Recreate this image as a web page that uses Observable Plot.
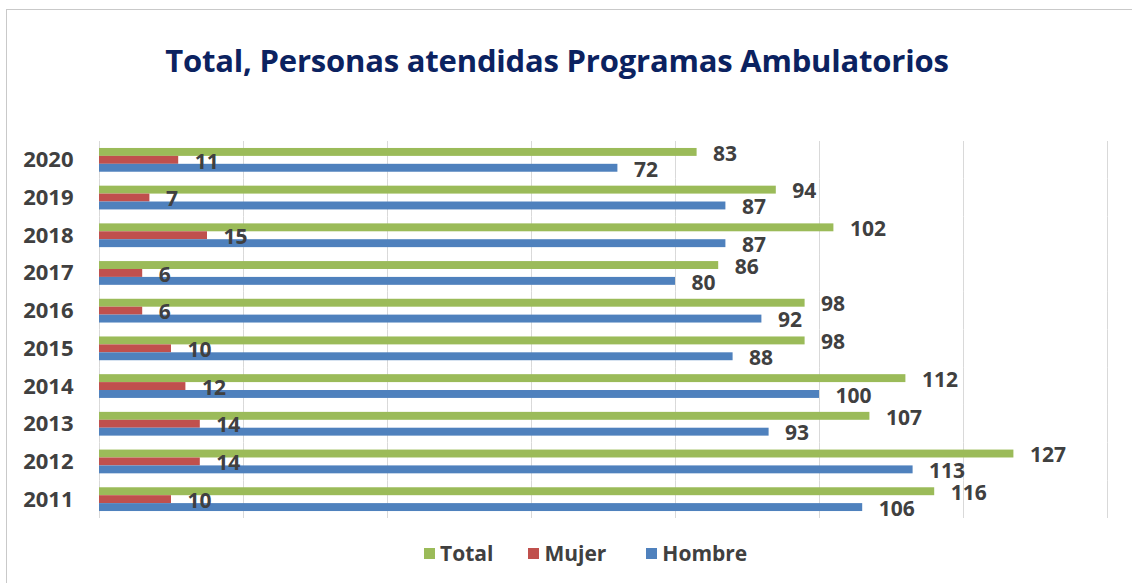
<!DOCTYPE html>
<html>
<head>
<meta charset="utf-8">
<script src="https://cdn.jsdelivr.net/npm/d3@7"></script>
<script src="https://cdn.jsdelivr.net/npm/@observablehq/plot@0.6"></script>
<style>
  html, body { margin: 0; padding: 0; background: #fff; width: 1132px; height: 583px; overflow: hidden; font-family: "Open Sans", sans-serif; }
  #frame { position: absolute; left: 6px; top: 9px; width: 1300px; height: 800px; border: 1px solid #c9c9c9; }
  #title { position: absolute; left: 0; width: 1114px; top: 39px; text-align: center; font-size: 31px; font-weight: 700; color: #0b2260; letter-spacing: -0.2px; }
  #chart { position: absolute; left: 0; top: 121px; }
  #legend { position: absolute; left: 424px; top: 539px; display: flex; font-size: 21px; font-weight: 700; color: #404040; }
  #legend .item { display: flex; align-items: center; gap: 5px; }
  #legend .sw { width: 11px; height: 11px; display: inline-block; }
  #chart svg g[aria-label="fy-axis tick label"] text { font-size: 22px; font-weight: 700; fill: #404040; }
</style>
</head>
<body>
<div id="frame"></div>
<div id="title">Total, Personas atendidas Programas Ambulatorios</div>
<div id="chart"></div>
<div id="legend"></div>
<script>
const years = [2011, 2012, 2013, 2014, 2015, 2016, 2017, 2018, 2019, 2020];
const total = [116, 127, 107, 112, 98, 98, 86, 102, 94, 83];
const mujer = [10, 14, 14, 12, 10, 6, 6, 15, 7, 11];
const hombre = [106, 113, 93, 100, 88, 92, 80, 87, 87, 72];
const seriesNames = ["Total", "Mujer", "Hombre"];
const seriesColors = ["#9BBB59", "#C0504D", "#4F81BD"];
const xTicks = [0, 20, 40, 60, 80, 100, 120, 140];

const seriesValues = [total, mujer, hombre];
const data = [];
years.forEach((yr, i) => {
  seriesNames.forEach((s, j) => {
    data.push({year: String(yr), series: s, value: seriesValues[j][i]});
  });
});

const chart = Plot.plot({
  width: 1132,
  height: 409,
  marginLeft: 99,
  marginRight: 25,
  marginTop: 20,
  marginBottom: 12,
  style: {fontFamily: "'Open Sans', sans-serif", overflow: "visible"},
  x: {domain: [0, 140], axis: null},
  y: {domain: seriesNames, paddingInner: 0, paddingOuter: 0.88, round: false, axis: null},
  fy: {domain: years.map(String).reverse(), padding: 0, round: false, axis: "left", tickSize: 0, tickPadding: 26, label: null},
  color: {domain: seriesNames, range: seriesColors},
  marks: [
    Plot.ruleX(xTicks, {stroke: "#d9d9d9", strokeWidth: 1}),
    Plot.barX(data, {fy: "year", y: "series", x: "value", fill: "series"}),
    Plot.text(data, {fy: "year", y: "series", x: "value", text: d => String(d.value), dx: 16, dy: 1.5, textAnchor: "start", fontSize: 21, fontWeight: 700, fill: "#404040"})
  ]
});
document.getElementById("chart").appendChild(chart);

const legend = document.getElementById("legend");
const legendGaps = [0, 35, 40];
seriesNames.forEach((s, j) => {
  const item = document.createElement("div");
  item.className = "item";
  item.style.marginLeft = legendGaps[j] + "px";
  const sw = document.createElement("span");
  sw.className = "sw";
  sw.style.background = seriesColors[j];
  const label = document.createElement("span");
  label.textContent = s;
  item.appendChild(sw);
  item.appendChild(label);
  legend.appendChild(item);
});
</script>
</body>
</html>
